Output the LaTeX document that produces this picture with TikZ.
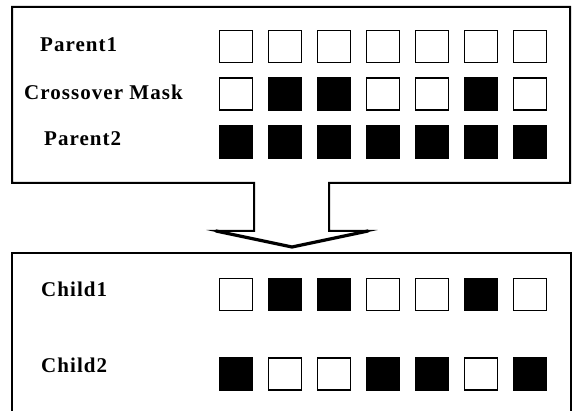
\documentclass[tikz,border=0pt]{standalone}
\usepackage{fontspec}
\setmainfont{Liberation Serif}[LetterSpace=5]
\begin{document}
\begin{tikzpicture}[x=1pt,y=-1pt,
  cell/.style={draw=black,line width=1.6pt,minimum width=33pt,minimum height=32pt,inner sep=0pt,outer sep=0pt},
  on/.style={cell,fill=black},
  off/.style={cell,fill=white},
  lbl/.style={anchor=base west,inner sep=0pt,font=\fontsize{21}{25}\selectfont\bfseries},
  frame/.style={line width=2pt,line join=miter}]
\useasboundingbox (0,0) rectangle (578,411);
% top box joined with the down arrow
\draw[frame] (12,7) -- (570,7) -- (570,183) -- (329,183) -- (329,231) -- (368,231)
  -- (292,247) -- (216,231) -- (254,231) -- (254,183) -- (12,183) -- cycle;
\draw[line width=3.2pt,line cap=round] (216,231) -- (292,247) -- (368,231);
% bottom box
\draw[frame] (12,420) -- (12,253) -- (571,253) -- (571,420);
% labels
\node[lbl] (lp1) at (40,52) {Parent1};
\node[lbl] (lcm) at (24,100) {Crossover Mask};
\node[lbl] (lp2) at (44,146) {Parent2};
\node[lbl] (lc1) at (41,297) {Child1};
\node[lbl] (lc2) at (41,372) {Child2};
% cells
\foreach \i in {0,...,6}{
  \node[off] (p1-\i) at (236+49*\i,46.5) {};
  \node[on]  (p2-\i) at (236+49*\i,142) {};
}
\foreach \v [count=\i from 0] in {0,1,1,0,0,1,0}{
  \ifnum\v=1 \node[on] (cm-\i) at (236+49*\i,94) {};
  \else \node[off] (cm-\i) at (236+49*\i,94) {}; \fi
  \ifnum\v=1 \node[on] (c1-\i) at (236+49*\i,294.5) {};
  \else \node[off] (c1-\i) at (236+49*\i,294.5) {}; \fi
  \ifnum\v=1 \node[off] (c2-\i) at (236+49*\i,374) {};
  \else \node[on] (c2-\i) at (236+49*\i,374) {}; \fi
}
\end{tikzpicture}
\end{document}
